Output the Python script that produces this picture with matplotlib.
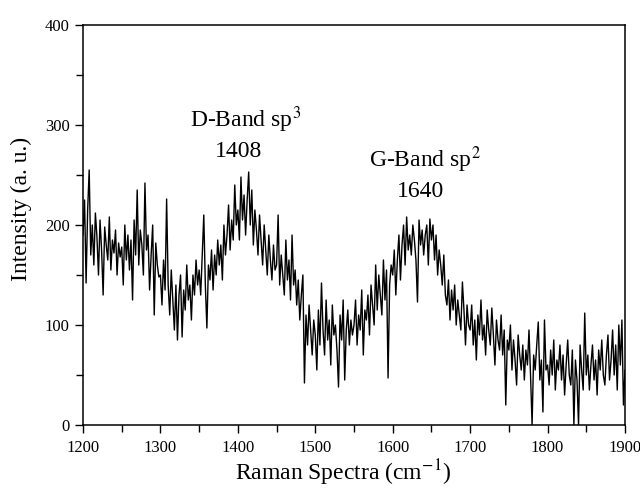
import numpy as np
import matplotlib
matplotlib.use('Agg')
import matplotlib.pyplot as plt
from matplotlib.ticker import MultipleLocator

# spectre Raman, un point tous les 2 cm-1 (1200 -> 1900)
shift = np.arange(1200, 1901, 2)

seg_1200 = [190, 225, 142, 215, 255, 170, 200, 160, 212, 188, 150, 205, 175, 130, 198, 180, 165, 208, 155, 185, 172, 195, 150, 182, 168]
seg_1250 = [178, 140, 200, 165, 190, 155, 185, 125, 205, 170, 235, 160, 195, 180, 150, 242, 175, 190, 135, 170, 200, 110, 182, 160, 148]
seg_1300 = [150, 120, 165, 135, 226, 140, 110, 155, 125, 95, 140, 85, 130, 150, 88, 135, 115, 160, 125, 140, 105, 150, 130, 165, 140]
seg_1350 = [155, 130, 170, 210, 140, 97, 160, 145, 175, 135, 170, 150, 185, 160, 180, 145, 200, 170, 190, 220, 175, 205, 185, 240, 200]
seg_1400 = [215, 185, 248, 205, 230, 190, 225, 253, 200, 235, 180, 215, 195, 170, 210, 185, 160, 200, 175, 150, 190, 165, 145, 180, 155]
seg_1450 = [160, 210, 140, 170, 150, 130, 185, 145, 165, 125, 190, 140, 155, 120, 145, 105, 130, 150, 42, 110, 80, 120, 95, 70, 105]
seg_1500 = [90, 55, 115, 80, 142, 95, 70, 125, 85, 105, 60, 120, 90, 100, 75, 38, 110, 85, 125, 45, 95, 115, 80, 105, 90]
seg_1550 = [100, 125, 80, 110, 95, 135, 70, 115, 105, 130, 90, 140, 120, 100, 160, 115, 150, 130, 110, 165, 125, 155, 47, 140, 160]
seg_1600 = [150, 175, 130, 165, 190, 145, 180, 200, 160, 208, 175, 190, 170, 200, 185, 165, 123, 205, 180, 195, 170, 190, 200, 160, 206]
seg_1650 = [185, 200, 165, 190, 150, 175, 160, 140, 170, 130, 120, 145, 105, 135, 115, 140, 100, 125, 110, 95, 143, 115, 80, 120, 100]
seg_1700 = [95, 120, 80, 105, 65, 110, 90, 125, 85, 100, 70, 115, 95, 80, 117, 90, 60, 105, 85, 75, 110, 70, 95, 20, 85]
seg_1750 = [75, 100, 55, 85, 65, 40, 90, 70, 55, 80, 45, 75, 60, 95, 50, 0, 70, 55, 80, 103, 45, 65, 13, 105, 55]
seg_1800 = [60, 40, 75, 50, 85, 35, 65, 55, 80, 45, 70, 30, 60, 85, 50, 40, 75, 0, 65, 45, 0, 80, 55, 35, 112]
seg_1850 = [50, 70, 35, 60, 80, 45, 65, 30, 75, 55, 85, 50, 40, 70, 90, 45, 65, 95, 50, 80, 35, 100, 60, 105, 20, 55]

intensity = (seg_1200 + seg_1250 + seg_1300 + seg_1350 + seg_1400 + seg_1450 + seg_1500
             + seg_1550 + seg_1600 + seg_1650 + seg_1700 + seg_1750 + seg_1800 + seg_1850)

plt.rcParams['font.family'] = ['Liberation Serif', 'DejaVu Serif']
plt.rcParams['mathtext.fontset'] = 'stix'

fig = plt.figure(figsize=(6.4, 4.94), dpi=100)
ax = fig.add_axes([83/640, 1-425/494, 542/640, 400/494])

ax.plot(shift, intensity, color='black', lw=1.0)

ax.set_xlim(1200, 1900)
ax.set_ylim(0, 400)
ax.xaxis.set_major_locator(MultipleLocator(100))
ax.xaxis.set_minor_locator(MultipleLocator(50))
ax.yaxis.set_major_locator(MultipleLocator(100))
ax.yaxis.set_minor_locator(MultipleLocator(50))
ax.tick_params(which='both', direction='out', top=False, right=False, width=1, labelsize=12)
ax.tick_params(which='major', length=6)
ax.tick_params(which='minor', length=5)
ax.tick_params(axis='x', pad=5)
for s in ax.spines.values():
    s.set_linewidth(1.1)

ax.set_xlabel('Raman Spectra (cm$^{-1}$)', fontsize=17)
ax.xaxis.set_label_coords(0.48, -0.082)
ax.set_ylabel('Intensity (a. u.)', fontsize=17)
ax.yaxis.set_label_coords(-0.095, 0.54)

# annotations des bandes
ax.text(1410, 298, 'D-Band sp$^3$', fontsize=17, ha='center', va='baseline')
ax.text(1401, 268, '1408', fontsize=17, ha='center', va='baseline')
ax.text(1642, 258, 'G-Band sp$^2$', fontsize=17, ha='center', va='baseline')
ax.text(1636, 228, '1640', fontsize=17, ha='center', va='baseline')

plt.savefig('out.png', dpi=100)
plt.close()
